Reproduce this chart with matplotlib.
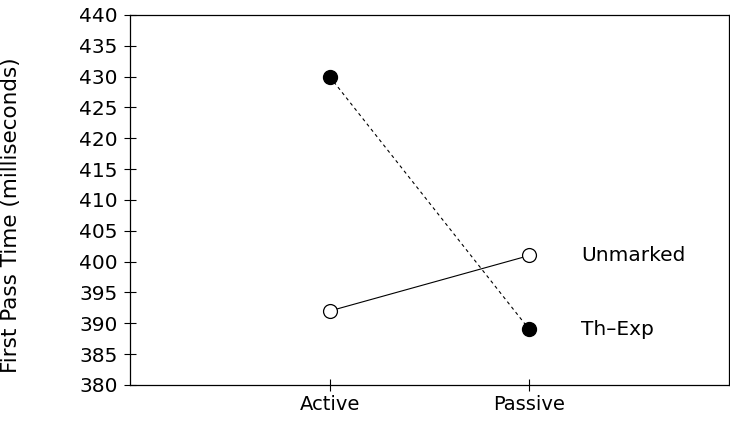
import matplotlib
matplotlib.use("Agg")
import matplotlib.pyplot as plt

conditions = ["Active", "Passive"]
unmarked = [392, 401]
th_exp = [430, 389]
y_ticks = list(range(380, 445, 5))

fig = plt.figure(figsize=(7.3, 4.21), dpi=100)
ax = fig.add_axes([130 / 730, 1 - 385 / 421, 599 / 730, 370 / 421])

x = [1, 2]
ax.plot(x, unmarked, color="black", lw=0.8, marker="o", markersize=10,
        markerfacecolor="white", markeredgecolor="black", markeredgewidth=0.9, zorder=3)
ax.plot(x, th_exp, color="black", lw=0.8, ls=(0, (3, 3)), marker="o", markersize=10,
        markerfacecolor="black", markeredgecolor="black", zorder=3)

ax.text(2.26, unmarked[1], "Unmarked", va="center", ha="left", fontsize=14.5)
ax.text(2.26, th_exp[1], "Th\u2013Exp", va="center", ha="left", fontsize=14.5)

ax.set_xlim(0, 3)
ax.set_ylim(380, 440)
ax.set_xticks(x)
ax.set_xticklabels(conditions)
ax.set_yticks(y_ticks)
ax.tick_params(direction="inout", length=8, width=0.8)
ax.tick_params(axis="x", pad=3, labelsize=14)
ax.tick_params(axis="y", pad=5, labelsize=14.5)
for s in ax.spines.values():
    s.set_linewidth(0.9)

ax.set_ylabel("First Pass Time (milliseconds)", fontsize=15.5)
ax.yaxis.set_label_coords(-0.182, 0.459)

fig.savefig("out.png", dpi=100)
